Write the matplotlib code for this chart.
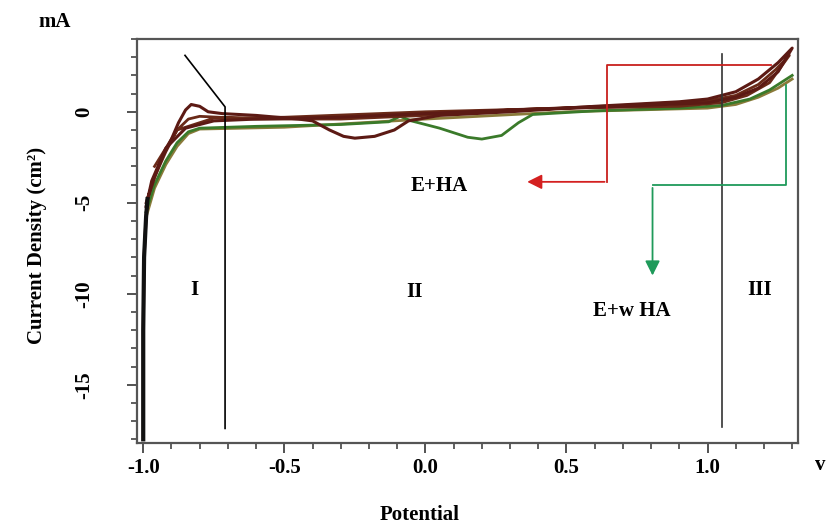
"""
plot.py - cyclic polarisation curves of E+HA and E+w HA, redrawn with matplotlib
"""
import matplotlib
matplotlib.use("Agg")
import matplotlib.pyplot as plt
from matplotlib.ticker import MultipleLocator

plt.rcParams['font.family'] = ['Liberation Serif', 'DejaVu Serif']
plt.rcParams['font.weight'] = 'bold'

# --- data (potential in V, current density in mA/cm2) ---
# brown loop with the peak near -0.83 V and the dip near -0.26 V
brown1_x = [-1.0, -1.0, -0.997, -0.99, -0.985, -0.96, -0.93, -0.90, -0.875, -0.85, -0.83,
            -0.80, -0.77, -0.72, -0.60, -0.45, -0.40, -0.34, -0.29, -0.25, -0.18, -0.11,
            -0.06, 0.05, 0.30, 0.60, 0.90, 1.00, 1.10, 1.18, 1.25, 1.30,
            1.25, 1.18, 1.10, 1.00, 0.70, 0.30, 0.00, -0.30, -0.60, -0.75, -0.85, -0.92,
            -0.97, -0.99]
brown1_y = [-18.0, -12.0, -8.0, -5.8, -4.8, -3.6, -2.4, -1.5, -0.6, 0.1, 0.4,
            0.3, 0.0, -0.1, -0.2, -0.4, -0.5, -1.0, -1.35, -1.45, -1.35, -1.0,
            -0.5, -0.2, 0.0, 0.3, 0.55, 0.7, 1.1, 1.8, 2.7, 3.5,
            2.2, 1.3, 0.8, 0.5, 0.3, 0.1, -0.1, -0.3, -0.4, -0.5, -0.9, -2.0,
            -3.8, -5.2]

# second brown loop
brown2_x = [-0.99, -0.96, -0.92, -0.88, -0.84, -0.80, -0.60, -0.30, 0.00, 0.30, 0.70,
            1.00, 1.10, 1.18, 1.24, 1.29, 1.22, 1.14, 1.05, 0.90, 0.50, 0.00, -0.50,
            -0.75, -0.88, -0.96]
brown2_y = [-5.0, -3.6, -2.2, -1.0, -0.4, -0.25, -0.4, -0.4, -0.2, 0.1, 0.35,
            0.6, 0.9, 1.5, 2.3, 3.1, 1.6, 0.9, 0.5, 0.3, 0.2, 0.0, -0.3,
            -0.35, -1.0, -3.0]

# green loop with the dip near 0.2 V
green_x = [-0.99, -0.96, -0.92, -0.88, -0.84, -0.80, -0.60, -0.30, -0.13, -0.09, -0.05,
           0.05, 0.15, 0.20, 0.27, 0.33, 0.38, 0.60, 0.90, 1.05, 1.15, 1.22, 1.30]
green_y = [-5.5, -4.0, -2.7, -1.7, -1.1, -0.9, -0.8, -0.7, -0.55, -0.25, -0.5,
           -0.9, -1.4, -1.5, -1.3, -0.6, -0.15, 0.05, 0.2, 0.35, 0.7, 1.2, 2.0]

# olive loop
olive_x = [-0.99, -0.96, -0.92, -0.88, -0.84, -0.80, -0.50, 0.00, 0.50, 1.00, 1.10,
           1.18, 1.25, 1.30]
olive_y = [-5.8, -4.2, -2.9, -1.9, -1.2, -0.95, -0.85, -0.4, 0.0, 0.2, 0.4,
           0.8, 1.3, 1.8]

# region borders and labels
border1_x = [-0.852, -0.71, -0.71]
border1_y = [3.1, 0.27, -17.4]
border3_x = [1.053, 1.053]
border3_y = [3.2, -17.3]
region_names = ['I', 'II', 'III']
region_x = [-0.817, -0.04, 1.183]
region_y = [-9.8, -9.9, -9.8]

# callout paths (last segment ends in an arrow head)
red_path_x = [1.224, 0.645, 0.645, 0.351]
red_path_y = [2.56, 2.56, -3.85, -3.85]
green_path_x = [1.278, 1.278, 0.805, 0.805]
green_path_y = [1.46, -4.03, -4.03, -9.15]

fig = plt.figure(figsize=(8.26, 5.29), dpi=100)
ax = fig.add_axes([0.1659, 0.1626, 0.800, 0.7637])

# curves
ax.plot(olive_x, olive_y, color='#8a7a3a', lw=2.0)
ax.plot(green_x, green_y, color='#3a7a2a', lw=2.0)
ax.plot(brown2_x, brown2_y, color='#6a2a18', lw=2.0)
ax.plot(brown1_x, brown1_y, color='#5c1a14', lw=2.2)
ax.plot(brown1_x[:5], brown1_y[:5], color='#111111', lw=3.0)

# region borders
ax.plot(border1_x, border1_y, color='black', lw=1.2)
ax.plot(border3_x, border3_y, color='#333333', lw=1.2)
for name, rx, ry in zip(region_names, region_x, region_y):
    ax.text(rx, ry, name, fontsize=15, fontweight='bold', ha='center', va='center')

# callouts
ax.plot(red_path_x[:-1], red_path_y[:-1], color='#c8201c', lw=1.3)
ax.annotate('', xy=(red_path_x[-1], red_path_y[-1]), xytext=(red_path_x[-2], red_path_y[-2]),
            arrowprops=dict(arrowstyle='-|>', color='#d42020', lw=1.3, mutation_scale=22))
ax.plot(green_path_x[:-1], green_path_y[:-1], color='#1f9a5a', lw=1.3)
ax.annotate('', xy=(green_path_x[-1], green_path_y[-1]), xytext=(green_path_x[-2], green_path_y[-2]),
            arrowprops=dict(arrowstyle='-|>', color='#1f9a5a', lw=1.3, mutation_scale=22))
ax.text(0.05, -4.1, 'E+HA', fontsize=15, fontweight='bold', ha='center', va='center')
ax.text(0.733, -10.96, 'E+w HA', fontsize=15, fontweight='bold', ha='center', va='center')

# axes
ax.set_xlim(-1.022, 1.32)
ax.set_ylim(-18.2, 4.0)
ax.set_xticks([-1.0, -0.5, 0.0, 0.5, 1.0])
ax.set_xticklabels(['-1.0', '-0.5', '0.0', '0.5', '1.0'], fontsize=15, fontweight='bold')
ax.set_yticks([0, -5, -10, -15])
ax.set_yticklabels(['0', '-5', '-10', '-15'], fontsize=15, fontweight='bold',
                   rotation=90, va='center')
ax.xaxis.set_minor_locator(MultipleLocator(0.1))
ax.yaxis.set_minor_locator(MultipleLocator(1))
ax.tick_params(which='major', length=7, width=1.3, color='#444444', direction='out')
ax.tick_params(which='minor', length=4, width=1.2, color='#444444', direction='out')
ax.tick_params(axis='x', pad=4)
ax.tick_params(axis='y', pad=24)
for sp in ax.spines.values():
    sp.set_color('#555555')
    sp.set_linewidth(1.6)

fig.text(420 / 826, 1 - 515 / 529, 'Potential', fontsize=15, fontweight='bold',
         ha='center', va='center')
fig.text(820 / 826, 1 - 465 / 529, 'v', fontsize=15, fontweight='bold',
         ha='center', va='center')
fig.text(55 / 826, 1 - 22 / 529, 'mA', fontsize=15, fontweight='bold',
         ha='center', va='center')
fig.text(37 / 826, 1 - 245 / 529, 'Current Density (cm²)', fontsize=15, fontweight='bold',
         ha='center', va='center', rotation=90)

fig.savefig('out.png', dpi=100)
